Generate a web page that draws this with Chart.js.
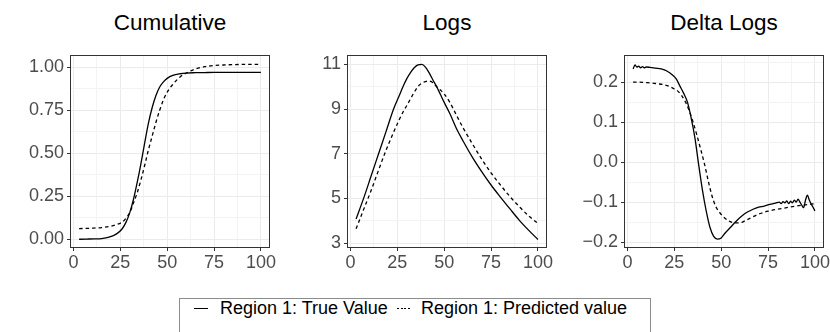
<!DOCTYPE html>
<html>
<head>
<meta charset="utf-8">
<script src="https://cdn.jsdelivr.net/npm/chart.js@4.4.1/dist/chart.umd.min.js"></script>
<style>
  body { margin: 0; width: 830px; height: 332px; background: #fff; position: relative; overflow: hidden;
         font-family: 'Liberation Sans', Arial, sans-serif; }
  .title { position: absolute; top: 10px; width: 200px; text-align: center; font-size: 22.5px; line-height: 25px; color: #000; }
  .panel { position: absolute; top: 50px; width: 281px; height: 228px; }
  .legend { position: absolute; left: 179px; top: 298px; width: 472px; height: 44px; border: 1px solid #8c8c8c; box-sizing: border-box; }
  .legend .lab { position: absolute; top: -1px; font-size: 18px; line-height: 20px; color: #000; white-space: nowrap; }
  .legend .key { position: absolute; top: 9px; width: 14px; height: 1.3px; }
</style>
</head>
<body>
<div class="title" style="left:70px">Cumulative</div>
<div class="title" style="left:347px">Logs</div>
<div class="title" style="left:624px">Delta Logs</div>

<div class="panel" style="left:5px"><canvas id="chart-cum" width="281" height="228"></canvas></div>
<div class="panel" style="left:282px"><canvas id="chart-logs" width="281" height="228"></canvas></div>
<div class="panel" style="left:559px"><canvas id="chart-delta" width="281" height="228"></canvas></div>

<div class="legend">
  <span class="key" style="left:14px;background:#000"></span>
  <span class="lab" style="left:40px">Region 1: True Value</span>
  <span class="key" style="left:217px;background:repeating-linear-gradient(90deg,#000 0 2px,transparent 2px 3.6px)"></span>
  <span class="lab" style="left:241px">Region 1: Predicted value</span>
</div>

<script>
// ── Data ──

// shared x positions for the Cumulative and Logs panels
const xsMain = [3, 7, 11, 15, 19, 23, 26, 28, 30, 32, 34, 36, 38, 40, 42, 44, 46, 48, 50, 53, 57, 60, 65, 70, 75, 80, 85, 90, 95, 100];

const cumTrue = [0.000, 0.001, 0.002, 0.004, 0.012, 0.031, 0.061, 0.098, 0.153, 0.231, 0.33, 0.44, 0.56, 0.675, 0.766,
                 0.835, 0.885, 0.915, 0.935, 0.952, 0.962, 0.966, 0.968, 0.969, 0.97, 0.97, 0.97, 0.97, 0.97, 0.97];
const cumPred = [0.062, 0.063, 0.065, 0.068, 0.074, 0.085, 0.10, 0.122, 0.155, 0.21, 0.27, 0.345, 0.43, 0.52, 0.60,
                 0.68, 0.75, 0.81, 0.855, 0.90, 0.945, 0.965, 0.99, 1.003, 1.01, 1.013, 1.015, 1.016, 1.017, 1.017];

const logTrue = [4.08, 5.0, 6.0, 7.0, 8.0, 9.0, 9.6, 10.0, 10.35, 10.63, 10.85, 10.98, 11.0, 10.88, 10.62,
                 10.3, 10.0, 9.65, 9.3, 8.8, 8.05, 7.58, 6.85, 6.2, 5.6, 5.06, 4.54, 4.03, 3.58, 3.16];
const logPred = [3.64, 4.5, 5.35, 6.27, 7.16, 7.96, 8.52, 8.86, 9.15, 9.45, 9.75, 10.01, 10.15, 10.23, 10.25,
                 10.18, 10.0, 9.85, 9.68, 9.3, 8.65, 8.17, 7.45, 6.76, 6.14, 5.6, 5.09, 4.64, 4.22, 3.88];

// Delta Logs: the true series is noisy at both ends, so it gets its own x positions
const xsDeltaTrue = [3, 4, 5, 6, 7, 8, 9, 10, 12, 15, 18, 21, 24, 26, 28, 30, 32, 34, 36, 38, 40, 42, 44, 46, 48, 50, 52,
                     55, 58, 61, 64, 67, 70, 73, 76, 79, 81, 82, 83, 84, 85, 86, 87, 88, 89, 90, 91, 92, 93, 94, 95, 96,
                     97, 98, 99, 100];
const deltaTrue = [0.233, 0.243, 0.238, 0.24, 0.236, 0.239, 0.236, 0.238, 0.237, 0.235, 0.233, 0.228, 0.218, 0.208, 0.19,
                   0.172, 0.15, 0.11, 0.06, -0.007, -0.07, -0.122, -0.163, -0.186, -0.193, -0.19, -0.178,
                   -0.163, -0.148, -0.135, -0.125, -0.118, -0.113, -0.11, -0.106, -0.103, -0.1, -0.104, -0.099, -0.102,
                   -0.097, -0.104, -0.098, -0.102, -0.095, -0.1, -0.093, -0.1, -0.108, -0.114, -0.095, -0.083,
                   -0.095, -0.105, -0.113, -0.122];
const xsDeltaPred = [3, 6, 10, 13, 16, 19, 22, 25, 27, 29, 31, 33, 35, 37, 39, 41, 43, 45, 47, 49, 51, 54, 57, 60, 63, 66,
                     69, 72, 75, 80, 85, 90, 95, 100];
const deltaPred = [0.2, 0.2, 0.199, 0.198, 0.196, 0.194, 0.19, 0.183, 0.177, 0.166, 0.15, 0.128, 0.1, 0.068, 0.033,
                   -0.003, -0.045, -0.083, -0.11, -0.125, -0.136, -0.147, -0.152, -0.152, -0.146, -0.139, -0.132,
                   -0.127, -0.123, -0.118, -0.114, -0.11, -0.107, -0.104];

// tick labels
const xTicks = [0, 25, 50, 75, 100];
const cumTicks = [0, 0.25, 0.5, 0.75, 1];
const logTicks = [3, 5, 7, 9, 11];
const deltaTicks = [-0.2, -0.1, 0, 0.1, 0.2];

// ── Style ──
const FONT = "'Liberation Sans', Arial, sans-serif";
const GRID_MAJOR = '#ebebeb';
const GRID_MINOR = '#f3f3f3';
const AXIS_DARK = '#333333';

Chart.defaults.font.family = FONT;
Chart.defaults.color = '#4d4d4d';

// panel border drawn around the plot area (ggplot theme_bw)
const panelBorder = {
  id: 'panelBorder',
  afterDraw(chart) {
    const { ctx, chartArea: a } = chart;
    ctx.save();
    ctx.strokeStyle = AXIS_DARK;
    ctx.lineWidth = 1;
    ctx.strokeRect(Math.round(a.left) + 0.5, Math.round(a.top) + 0.5, Math.round(a.width) - 1, Math.round(a.height) - 1);
    ctx.restore();
  }
};

// ── Helpers ──

const near = (a, b) => Math.abs(a - b) < 1e-9;

// majors plus midway minor breaks, kept inside [min, max]
function withMinors(majors, min, max) {
  const step = majors[1] - majors[0];
  const out = [];
  const first = majors[0] - step / 2;
  for (let v = first; v <= max + 1e-9; v += step / 2) {
    if (v >= min - 1e-9) out.push(Math.round(v * 1e6) / 1e6);
  }
  return out;
}

function toPoints(xs, ys) {
  return xs.map((x, i) => ({ x, y: ys[i] }));
}

function axisOptions(majors, min, max, fmt, isX) {
  const isMajor = v => majors.some(m => near(m, v));
  return {
    type: 'linear',
    min, max,
    afterBuildTicks: axis => { axis.ticks = withMinors(majors, min, max).map(v => ({ value: v })); },
    afterFit: scale => {
      if (isX) { scale.height = 30; scale.paddingLeft = 0; scale.paddingRight = 0; }
      else { scale.width = 65; scale.paddingTop = 0; scale.paddingBottom = 0; }
    },
    grid: {
      color: c => (c.tick && isMajor(c.tick.value)) ? GRID_MAJOR : GRID_MINOR,
      lineWidth: 1,
      drawTicks: true,
      tickLength: 3,
      tickColor: c => (c.tick && isMajor(c.tick.value)) ? AXIS_DARK : 'rgba(0,0,0,0)',
    },
    border: { display: false },
    ticks: {
      autoSkip: false,
      maxRotation: 0,
      padding: isX ? 1 : 3,
      font: { size: 18 },
      color: '#4d4d4d',
      callback: v => isMajor(v) ? fmt(v) : '',
    }
  };
}

function renderPanel(id, series, yMajors, yMin, yMax, yFmt) {
  const ctx = document.getElementById(id).getContext('2d');
  return new Chart(ctx, {
    type: 'scatter',
    data: {
      datasets: series.map(s => ({
        data: s.points,
        showLine: true,
        borderColor: '#000',
        borderWidth: 1.3,
        borderDash: s.dash || [],
        pointRadius: 0,
        cubicInterpolationMode: 'monotone',
      }))
    },
    options: {
      responsive: false,
      animation: false,
      devicePixelRatio: 1,
      layout: { padding: { top: 5, right: 16, bottom: 0, left: 0 } },
      plugins: { legend: { display: false }, tooltip: { enabled: false } },
      scales: {
        x: axisOptions(xTicks, -1.85, 104.85, v => String(v), true),
        y: axisOptions(yMajors, yMin, yMax, yFmt, false),
      }
    },
    plugins: [panelBorder]
  });
}

const DASH = [3.5, 3];

renderPanel('chart-cum', [
  { points: toPoints(xsMain, cumTrue) },
  { points: toPoints(xsMain, cumPred), dash: DASH },
], cumTicks, -0.051, 1.071, v => v.toFixed(2));

renderPanel('chart-logs', [
  { points: toPoints(xsMain, logTrue) },
  { points: toPoints(xsMain, logPred), dash: DASH },
], logTicks, 2.78, 11.42, v => String(v));

renderPanel('chart-delta', [
  { points: toPoints(xsDeltaTrue, deltaTrue) },
  { points: toPoints(xsDeltaPred, deltaPred), dash: DASH },
], deltaTicks, -0.215, 0.268, v => (near(v, 0) ? '0.0' : v.toFixed(1).replace('-', '\u2212')));
</script>
</body>
</html>
